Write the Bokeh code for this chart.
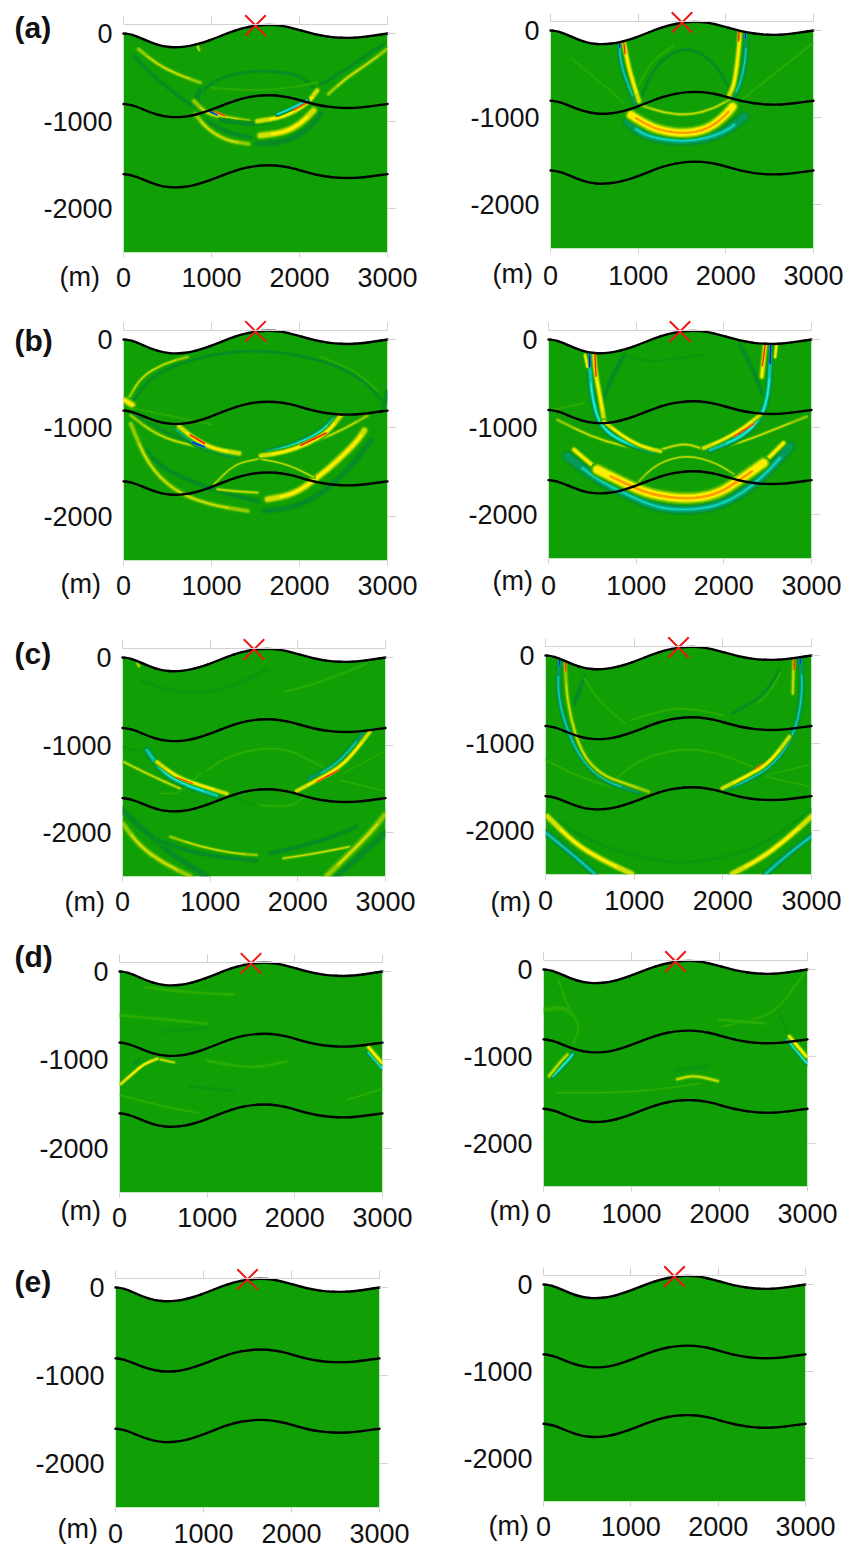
from bokeh.plotting import figure
from bokeh.layouts import column, row
from bokeh.models import FixedTicker, Label, LinearAxis
from bokeh.embed import file_html
from bokeh.resources import INLINE

# ---- interfaces (m) ----
iface_x = [0, 50, 150, 300, 450, 600, 750, 900, 1050, 1200, 1350, 1500, 1650, 1800, 1950, 2100, 2250, 2400, 2550, 2700, 2850, 3000]
surface_y = [0, -2, -30, -100, -148, -160, -145, -105, -50, 10, 60, 90, 102, 90, 55, 10, -25, -45, -52, -45, -22, 0]
layer1_y = [-805, -808, -835, -900, -945, -958, -945, -905, -850, -790, -740, -712, -702, -712, -745, -790, -825, -845, -852, -845, -825, -805]
layer2_y = [-1605, -1608, -1635, -1700, -1748, -1760, -1745, -1705, -1650, -1590, -1540, -1512, -1502, -1512, -1545, -1590, -1625, -1645, -1652, -1645, -1625, -1605]
source_x = [1500]
source_y = [92]
x_ticks = [0, 1000, 2000, 3000]
y_ticks = [0, -1000, -2000]
x_tick_labels = ["0", "1000", "2000", "3000"]
y_tick_labels = ["0", "-1000", "-2000"]
panel_letters = ["(a)", "(b)", "(c)", "(d)", "(e)"]

# ---- wavefronts: (kind, px width, [(x m, y m), ...]) ----
a_left = [
    ("d", 2.5, [(120,-260),(250,-400),(500,-620),(700,-770),(800,-830)]),
    ("l", 2.5, [(170,-178),(380,-350),(620,-470),(872,-560)]),
    ("d", 2, [(2960,-120),(2730,-270),(2390,-500),(2240,-580)]),
    ("l", 2.5, [(2995,-178),(2770,-350),(2540,-500),(2330,-690)]),
    ("d", 2, [(830,-730),(1020,-540),(1300,-450),(1550,-425),(1800,-440),(2010,-480),(2200,-650)]),
    ("g", 2, [(1000,-620),(1400,-650),(1800,-640),(2200,-560)]),
    ("d", 4, [(870,-650),(815,-770),(910,-900),(1020,-940)]),
    ("d", 3, [(950,-995),(1175,-1130),(1440,-1186)]),
    ("d", 4, [(1515,-1260),(1820,-1245),(2085,-1110),(2237,-920)]),
    ("l", 3, [(815,-920),(950,-1090),(1175,-1225),(1420,-1260)]),
    ("y", 4, [(1555,-1165),(1820,-1130),(2010,-1035),(2160,-880)]),
    ("l", 3, [(800,-770),(950,-920),(1175,-960),(1420,-1000)]),
    ("d", 3, [(1100,-990),(1300,-1020),(1500,-1040),(1700,-1000)]),
    ("y", 3, [(1520,-1000),(1820,-955),(2085,-805),(2200,-650)]),
    ("c", 2, [(1750,-920),(1900,-860),(2085,-760)]),
    ("r", 2, [(1935,-875),(2085,-790)]),
    ("b", 2, [(960,-880),(1060,-930)]),
    ("r", 2, [(1040,-890),(1150,-940)]),
    ("l", 2, [(840,-140),(860,-190)]),
]
a_right = [
    ("g", 1.5, [(240,-323),(600,-620),(845,-836)]),
    ("g", 2, [(2985,-150),(2600,-460),(2170,-800)]),
    ("d", 2, [(1035,-760),(1186,-418),(1450,-210),(1680,-228),(1906,-418),(2040,-665)]),
    ("g", 2, [(1000,-640),(1160,-340),(1400,-180)]),
    ("l", 2, [(2095,-760),(1870,-893),(1600,-970),(1300,-950),(1000,-845)]),
    ("t", 4.5, [(883,-1045),(1072,-1216),(1565,-1284),(1982,-1178),(2210,-988)]),
    ("t", 2.5, [(790,-150),(790,-280),(830,-480),(900,-650),(970,-840)]),
    ("t", 2.5, [(2228,-76),(2228,-342),(2153,-646),(2077,-760)]),
    ("y", 3, [(838,-150),(860,-260),(900,-450),(950,-620),(1010,-810)]),
    ("y", 3, [(2160,-30),(2150,-200),(2100,-608),(2040,-740)]),
    ("s", 6, [(920,-970),(1035,-1045),(1224,-1140),(1527,-1186),(1793,-1132),(1982,-988),(2077,-874)]),
    ("r", 2, [(838,-150),(850,-266)]),
    ("b", 2, [(790,-145),(790,-195)]),
    ("r", 2, [(2150,-20),(2145,-120)]),
    ("b", 2, [(2222,-30),(2225,-90)]),
]
b_left = [
    ("d", 2, [(120,-690),(273,-462),(576,-292),(1030,-160),(1520,-120),(2016,-178),(2470,-310),(2774,-500),(2926,-690)]),
    ("l", 2, [(45,-690),(197,-424),(462,-270),(728,-197)]),
    ("g", 2, [(2244,-197),(2623,-348),(2888,-576)]),
    ("y", 4, [(20,-690),(100,-740)]),
    ("d", 3, [(2990,-600),(2950,-780)]),
    ("d", 2, [(120,-842),(576,-1107),(1030,-1240)]),
    ("g", 2, [(120,-780),(500,-860),(1000,-960)]),
    ("l", 2, [(83,-860),(387,-1088),(765,-1201),(1258,-1277)]),
    ("l", 2, [(2774,-860),(2509,-1012),(2206,-1145),(1940,-1220)]),
    ("d", 3, [(160,-1145),(424,-1448),(803,-1618),(1182,-1750),(1523,-1826)]),
    ("l", 3, [(83,-955),(273,-1410),(576,-1713),(955,-1865),(1410,-1940)]),
    ("d", 4, [(1600,-1940),(1940,-1902),(2244,-1750),(2547,-1485),(2812,-1145)]),
    ("y", 4, [(1637,-1808),(1940,-1750),(2206,-1561),(2433,-1372),(2660,-1145),(2736,-1030)]),
    ("l", 2, [(1068,-1694),(1300,-1720),(1523,-1732)]),
    ("l", 1.5, [(1030,-1637),(1258,-1410),(1523,-1353)]),
    ("l", 1.5, [(1561,-1353),(1864,-1410),(2168,-1561)]),
    ("c", 3.5, [(614,-1012),(841,-1182),(1068,-1258),(1258,-1296)]),
    ("c", 3, [(1637,-1277),(1940,-1201),(2244,-1050),(2395,-898)]),
    ("y", 3, [(633,-985),(803,-1125),(1030,-1240),(1315,-1288)]),
    ("y", 3, [(1561,-1315),(1826,-1277),(2092,-1182),(2319,-1050),(2470,-860)]),
    ("r", 2.5, [(760,-1080),(920,-1175)]),
    ("b", 2.5, [(785,-1163),(917,-1215)]),
    ("r", 2.5, [(2016,-1195),(2300,-1060)]),
]
b_right = [
    ("g", 2, [(27,-803),(405,-727)]),
    ("l", 2, [(102,-917),(481,-1107),(860,-1220),(1240,-1277)]),
    ("l", 2, [(2945,-880),(2566,-1030),(2187,-1182),(1808,-1258)]),
    ("d", 3, [(860,-178),(709,-462),(595,-765)]),
    ("d", 3, [(2187,-64),(2338,-349),(2433,-614)]),
    ("k", 2, [(898,-197),(1163,-254),(1467,-216),(1800,-170)]),
    ("l", 1.5, [(1012,-1637),(1240,-1410),(1580,-1315),(1921,-1410),(2149,-1561)]),
    ("l", 2, [(1277,-1258),(1543,-1182),(1732,-1239)]),
    ("t", 4.5, [(216,-1334),(557,-1600),(936,-1790),(1240,-1920),(1580,-1950),(1921,-1902),(2225,-1750),(2528,-1485),(2755,-1220)]),
    ("c", 3, [(470,-311),(500,-690),(595,-993),(822,-1163),(1201,-1277)]),
    ("c", 3, [(2528,-273),(2509,-614),(2433,-880),(2225,-1107),(1845,-1258)]),
    ("y", 3, [(520,-178),(538,-386),(595,-690),(633,-917)]),
    ("y", 2.5, [(633,-936),(822,-1088),(1050,-1220),(1277,-1277)]),
    ("y", 3, [(2471,-64),(2433,-424)]),
    ("y", 2.5, [(2414,-860),(2225,-1012),(1997,-1145),(1770,-1239)]),
    ("y", 3, [(292,-1258),(557,-1485),(700,-1560)]),
    ("y", 3, [(2300,-1510),(2452,-1410),(2680,-1182)]),
    ("s", 6.5, [(557,-1485),(860,-1637),(1163,-1770),(1580,-1826),(1921,-1770),(2187,-1600),(2452,-1410)]),
    ("y", 2, [(417,-178),(443,-311)]),
    ("y", 2, [(2600,-64),(2585,-200)]),
    ("r", 2, [(530,-178),(542,-420)]),
    ("b", 2.5, [(470,-178),(470,-311)]),
    ("r", 2, [(2471,-64),(2440,-300)]),
    ("b", 2.5, [(2535,-64),(2528,-273)]),
    ("r", 2, [(2120,-1105),(2345,-960)]),
]
c_left = [
    ("k", 3, [(205,-262),(735,-432),(1266,-337),(1645,-129)]),
    ("g", 2, [(1834,-394),(2213,-300),(2592,-148),(2782,-72)]),
    ("l", 2, [(170,-72),(190,-100)]),
    ("k", 2, [(15,-1022),(280,-1098)]),
    ("l", 2, [(15,-1193),(318,-1345),(659,-1497)]),
    ("g", 1.5, [(432,-1553),(659,-1553),(887,-1326)]),
    ("g", 2, [(963,-1288),(1190,-1136),(1531,-1041),(1872,-1041),(2138,-1174),(2327,-1269)]),
    ("g", 1.5, [(2479,-1402),(2971,-1516)]),
    ("g", 1.5, [(2516,-1326),(2971,-1079)]),
    ("k", 2, [(1190,-1554),(1493,-1687)]),
    ("g", 2, [(1569,-1687),(1948,-1706),(2100,-1554)]),
    ("d", 4, [(0,-1744),(243,-1970),(546,-2236),(963,-2497)]),
    ("d", 3, [(394,-2084),(887,-2255),(1531,-2320)]),
    ("d", 3, [(1683,-2236),(2024,-2160),(2403,-2046),(2668,-1932)]),
    ("d", 4, [(2990,-2008),(2744,-2236),(2441,-2497)]),
    ("l", 2, [(546,-2046),(887,-2160),(1266,-2236),(1531,-2255)]),
    ("l", 2, [(1834,-2293),(2213,-2236),(2592,-2160)]),
    ("l", 3.5, [(0,-1895),(205,-2160),(470,-2350),(773,-2497)]),
    ("l", 4, [(2990,-1800),(2820,-2008),(2592,-2236),(2327,-2497)]),
    ("c", 3, [(280,-1060),(470,-1326),(773,-1478),(1076,-1573)]),
    ("t", 2.5, [(2138,-1383),(2403,-1250),(2592,-1060),(2744,-870)]),
    ("y", 2.5, [(394,-1193),(621,-1364),(887,-1459),(1190,-1554)]),
    ("y", 2.5, [(1986,-1524),(2251,-1383),(2479,-1250),(2630,-1098),(2820,-851)]),
    ("r", 1.5, [(621,-1370),(800,-1440)]),
    ("r", 2, [(2213,-1421),(2460,-1288)]),
]
c_right = [
    ("g", 2, [(970,-737),(1349,-615),(1652,-604),(1993,-680)]),
    ("k", 3, [(8,-1800),(326,-2020),(700,-2200),(1270,-2350),(1650,-2370),(2230,-2260),(2650,-2030),(3000,-1760)]),
    ("d", 3, [(440,-243),(326,-547)]),
    ("g", 2, [(440,-262),(591,-509),(894,-775)]),
    ("d", 2, [(2638,-167),(2448,-470),(2107,-660)]),
    ("g", 2, [(2650,-200),(2530,-420),(2400,-540)]),
    ("g", 2, [(780,-1420),(1046,-1193),(1500,-1060),(1917,-1098),(2335,-1269)]),
    ("g", 2, [(4,-1193),(364,-1383),(743,-1497)]),
    ("g", 1.5, [(2486,-1364),(2979,-1250)]),
    ("g", 1.5, [(2486,-1383),(2979,-1497)]),
    ("t", 2.5, [(155,-91),(136,-395),(212,-775),(402,-1193),(667,-1440),(1046,-1554)]),
    ("t", 2.5, [(2873,-53),(2903,-395),(2827,-851),(2600,-1231),(2259,-1440),(1993,-1535)]),
    ("l", 2.5, [(220,-91),(250,-585),(402,-1117),(629,-1364),(894,-1459),(1160,-1554)]),
    ("l", 2.5, [(2800,-53),(2789,-433)]),
    ("y", 2.5, [(2751,-927),(2524,-1231),(2259,-1383),(1993,-1516)]),
    ("t", 3, [(8,-2027),(288,-2255),(553,-2490)]),
    ("t", 3, [(2998,-2065),(2751,-2255),(2486,-2490)]),
    ("y", 3.5, [(23,-1838),(326,-2141),(629,-2330),(970,-2490)]),
    ("y", 3.5, [(2998,-1838),(2713,-2103),(2410,-2330),(2107,-2490)]),
    ("b", 2, [(160,-50),(160,-110)]),
    ("r", 2, [(225,-90),(230,-180)]),
    ("r", 2, [(2805,-50),(2805,-160)]),
    ("b", 2, [(2873,-40),(2873,-90)]),
    ("r", 1.5, [(2355,-1300),(2440,-1240)]),
]
d_left = [
    ("g", 3, [(15,-497),(470,-535),(1000,-592)]),
    ("g", 3, [(300,-180),(800,-240),(1300,-260)]),
    ("k", 3, [(500,-680),(1000,-640)]),
    ("g", 3, [(1000,-1010),(1500,-1100),(1900,-1020)]),
    ("g", 2, [(15,-1400),(500,-1530),(900,-1600)]),
    ("k", 3, [(800,-1300),(1300,-1350)]),
    ("g", 2, [(2600,-1450),(3000,-1330)]),
    ("d", 2, [(167,-1045),(224,-1007)]),
    ("l", 2, [(432,-987),(622,-1030)]),
    ("y", 2, [(15,-1273),(167,-1140),(280,-1045),(432,-987)]),
    ("c", 2.5, [(2842,-915),(2990,-1087)]),
    ("y", 2.5, [(2842,-858),(2990,-1030)]),
]
d_right = [
    ("g", 4, [(8,-467),(235,-429),(349,-543)]),
    ("g", 2, [(170,-120),(270,-429),(420,-660),(340,-850)]),
    ("g", 2, [(2960,-50),(2660,-467),(2420,-570),(2030,-660)]),
    ("k", 2, [(2660,-467),(2794,-771)]),
    ("k", 4, [(1520,-1150),(1860,-1120)]),
    ("l", 2.5, [(1520,-1265),(1710,-1216),(1980,-1285)]),
    ("g", 2, [(150,-1420),(770,-1420),(1300,-1385),(1790,-1310)]),
    ("g", 3, [(2000,-580),(2500,-620)]),
    ("c", 2.5, [(102,-1227),(235,-1094),(330,-980)]),
    ("l", 2.5, [(64,-1227),(197,-1056),(273,-980)]),
    ("c", 2.5, [(2774,-809),(2990,-1075)]),
    ("y", 2.5, [(2794,-771),(2984,-999)]),
]
e_left = []
e_right = []

# ---- page placement of each panel: x of 0, x of 3000, y of 0, y of -2500 ----
row_tops = [0, 300, 620, 930, 1250]
row_heights = [300, 320, 310, 320, 297]
col_lefts = [0, 424]
col_width = 424
panels = [
    [(123, 387, 33, 252, a_left), (550, 813, 30, 248, a_right)],
    [(123, 387, 339, 560, b_left), (548, 811, 339, 558, b_right)],
    [(122, 385, 657, 876, c_left), (545, 811, 655, 874, c_right)],
    [(119, 382, 971, 1192, d_left), (543, 807, 969, 1186, d_right)],
    [(115, 379, 1287, 1507, e_left), (543, 805, 1284, 1501, e_right)],
]
# (left of "(m)", its baseline, top of the x tick digits) in page pixels
m_marks = [
    [(59, 276, 269), (492, 273, 267)],
    [(60, 583, 577), (492, 580, 577)],
    [(64, 901, 893), (490, 901, 892)],
    [(60, 1210, 1209), (489, 1210, 1205)],
    [(57, 1528, 1525), (488, 1525, 1518)],
]
letter_marks = [(14, 27), (14, 340), (14, 653), (14, 956), (14, 1281)]

GREEN = "#10a005"
GREY = "#d2d2d2"
FONT = "Liberation Sans"
TICK_SIZE = "27px"
# (width multiplier, colour, segments trimmed from each end)
LAYERS = {
    "y": [(2.4, "#24a803", 0), (1.9, "#58b800", 0), (1.45, "#98d000", 0), (1.05, "#d0e000", 0), (.6, "#fff000", 1)],
    "l": [(2.3, "#22a803", 0), (1.6, "#50b600", 0), (1.0, "#90cc00", 0), (.5, "#cfe000", 1)],
    "s": [(2.2, "#24a803", 0), (1.75, "#70c000", 0), (1.35, "#c0dc00", 0), (1.0, "#fff000", 0), (.4, "#ff9c00", 1)],
    "g": [(1.6, "#16a304", 0), (.8, "#2cac02", 0)],
    "d": [(2, "#0e9c0a", 0), (1.4, "#0a9218", 0), (.8, "#078a2a", 0)],
    "k": [(1.5, "#0e9c0a", 0), (.7, "#0c960e", 0)],
    "t": [(2.8, "#0c9a10", 0), (2.2, "#08902c", 0), (1.6, "#049a58", 0), (.9, "#06b088", 1), (.35, "#10d8c0", 1)],
    "c": [(2.8, "#0c9a10", 0), (2.2, "#08902c", 0), (1.6, "#04a060", 0), (1.0, "#08c8a8", 0), (.5, "#18f0e0", 1)],
    "r": [(1, "#ff9800", 0), (.5, "#ee1808", 0)],
    "b": [(1, "#00a8e8", 0), (.5, "#0014b8", 0)],
}


def smooth(p, pts, width, color, trim=0):
    """Draw a hand-read stroke as quadratic Bezier pieces whose control points are the read points."""
    mids = [((a[0] + b[0]) / 2, (a[1] + b[1]) / 2) for a, b in zip(pts[:-1], pts[1:])]
    starts = [pts[0]] + mids
    ends = mids + [pts[-1]]
    ctrl = [pts[0]] + list(pts[1:-1]) + [pts[-1]]
    if trim and len(starts) > 2 * trim + 1:
        starts, ends, ctrl = starts[trim:-trim], ends[trim:-trim], ctrl[trim:-trim]
    p.quadratic(x0=[q[0] for q in starts], y0=[q[1] for q in starts],
                x1=[q[0] for q in ends], y1=[q[1] for q in ends],
                cx=[q[0] for q in ctrl], cy=[q[1] for q in ctrl],
                line_color=color, line_width=width, line_cap="round")


def make_panel(r, c):
    x0, x3, y0, yb, strokes = panels[r][c]
    top, height, left = row_tops[r], row_heights[r], col_lefts[c]
    sx = (x3 - x0) / 3000
    sy = (yb - y0) / 2500
    xa, xb = (left - x0) / sx, (left + col_width - x0) / sx
    ya, yz = -(top + height - y0) / sy, (y0 - top) / sy
    # the frame fills the whole figure so that the labels in its margins are not clipped
    p = figure(width=col_width, height=height, output_backend="svg", toolbar_location=None,
               x_range=(xa, xb), y_range=(ya, yz), tools="",
               min_border_left=0, min_border_right=0, min_border_top=0, min_border_bottom=0,
               outline_line_color=None, background_fill_color="white", border_fill_color="white",
               x_axis_location=None, y_axis_location=None)
    p.grid.visible = False
    p.varea(x=iface_x, y1=surface_y, y2=-2500, fill_color=GREEN)
    for kind, w, pts in strokes:
        for mult, color, trim in LAYERS[kind]:
            smooth(p, pts, w * mult, color, trim)
    # white outside the section hides what the wavefront strokes overshoot
    p.varea(x=iface_x, y1=surface_y, y2=yz, fill_color="white")
    p.quad(left=[xa, 3000, xa], right=[0, xb, xb], bottom=[ya, ya, ya], top=[yz, yz, -2500],
           fill_color="white", line_color=None)
    for ys in (surface_y, layer1_y, layer2_y):
        smooth(p, list(zip(iface_x, ys)), 2.4, "black")
    p.scatter(source_x, source_y, marker="x", size=29, line_color="#f01414", line_width=2)

    mo, ml, bl = m_marks[r][c]
    bottom = LinearAxis(ticker=FixedTicker(ticks=x_ticks), fixed_location=-2500,
                        major_label_overrides=dict(zip(x_ticks, x_tick_labels)),
                        major_label_text_font=FONT, major_label_text_font_size=TICK_SIZE,
                        major_label_text_color="#111111",
                        major_tick_out=5, major_tick_in=0, major_tick_line_color=GREY,
                        minor_tick_line_color=None, axis_line_color=None,
                        major_label_standoff=bl - yb - 5 - 2)
    p.add_layout(bottom, "below")
    lft = LinearAxis(ticker=FixedTicker(ticks=y_ticks), fixed_location=0,
                     major_label_overrides=dict(zip(y_ticks, y_tick_labels)),
                     major_label_text_font=FONT, major_label_text_font_size=TICK_SIZE,
                     major_label_text_color="#111111",
                     major_tick_out=0, major_tick_in=0, major_tick_line_color=None,
                     minor_tick_line_color=None, axis_line_color=None,
                     major_label_standoff=11)
    p.add_layout(lft, "left")
    rgt = LinearAxis(ticker=FixedTicker(ticks=y_ticks), fixed_location=3000,
                     major_label_overrides={t: "" for t in y_ticks},
                     major_tick_out=8, major_tick_in=0, major_tick_line_color=GREY,
                     minor_tick_line_color=None, axis_line_color=None, major_label_standoff=0)
    p.add_layout(rgt, "right")
    abv = LinearAxis(ticker=FixedTicker(ticks=x_ticks), fixed_location=100, bounds=(0, 3000),
                     major_label_overrides={t: "" for t in x_ticks},
                     major_tick_out=8, major_tick_in=0, major_tick_line_color=GREY,
                     minor_tick_line_color=None, axis_line_color=GREY, major_label_standoff=0)
    p.add_layout(abv, "above")
    p.add_layout(Label(x=(mo - x0) / sx, y=-(ml - y0) / sy, text="(m)",
                       text_font=FONT, text_font_size=TICK_SIZE, text_color="#111111",
                       text_baseline="alphabetic"))
    if c == 0:
        lx, ly = letter_marks[r]
        p.add_layout(Label(x=(lx - x0) / sx, y=-(ly - y0) / sy, text=panel_letters[r],
                           text_font=FONT, text_font_style="bold", text_font_size="30px",
                           text_color="#111111", text_baseline="alphabetic"))
    return p


layout = column([row([make_panel(r, c) for c in range(2)], spacing=0) for r in range(5)], spacing=0)
open("out.html", "w").write(file_html(layout, INLINE))
